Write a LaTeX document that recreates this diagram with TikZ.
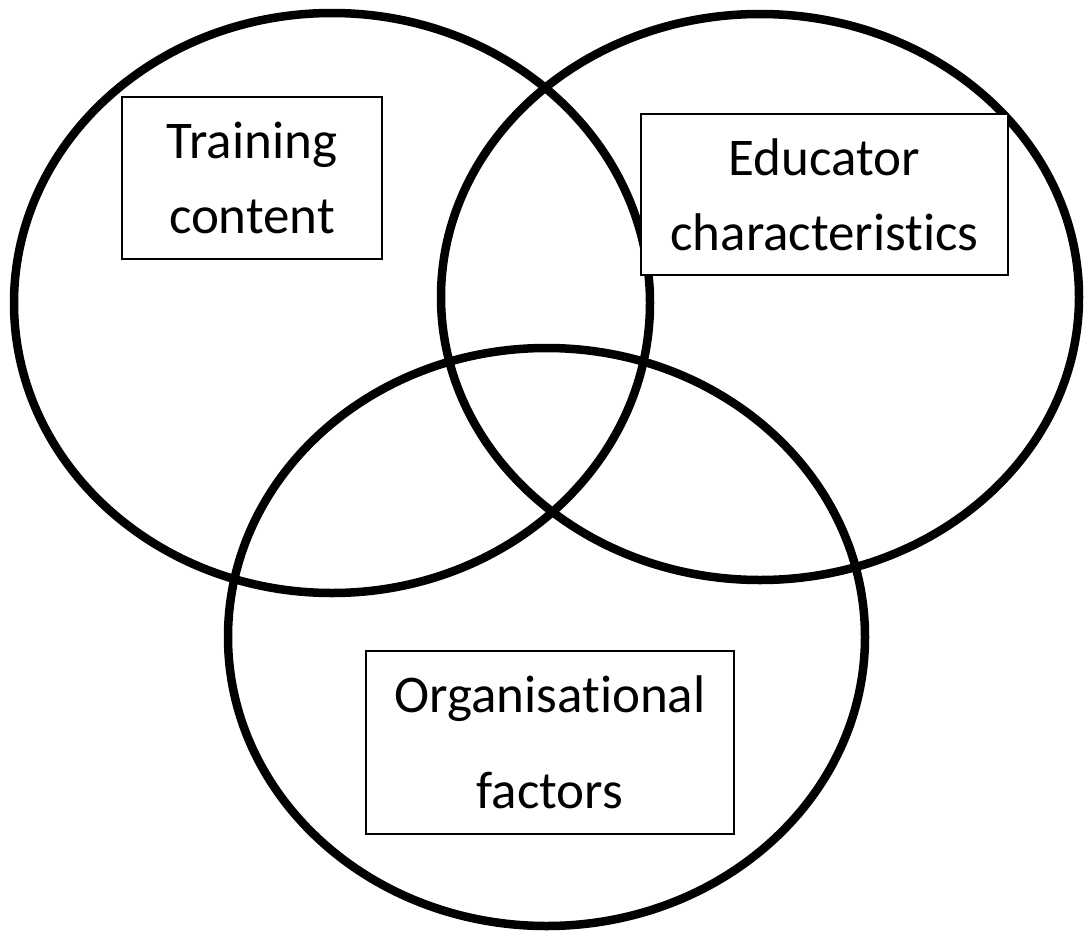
\documentclass[tikz,border=0pt]{standalone}
\usepackage{fontspec}
\setmainfont[Ligatures=NoCommon]{Carlito}
\begin{document}
\begin{tikzpicture}[x=1pt,y=-1pt,
  ring/.style={draw=black,line width=8.5pt},
  label box/.style={draw=black,line width=1.6pt,fill=white,align=center,inner sep=0pt,
    font=\fontsize{53}{75}\selectfont}]
\useasboundingbox (0,0) rectangle (1085,932);
\draw[ring] (332,303) ellipse [x radius=318, y radius=290];
\draw[ring] (760,297) ellipse [x radius=319, y radius=283];
\draw[ring] (546.5,637) ellipse [x radius=318.5, y radius=289];
\node[label box,minimum width=260pt,minimum height=162pt] (train) at (252,178) {Training\\content};
\node[label box,minimum width=367pt,minimum height=161pt] (educ) at (824.5,194.5) {Educator\\characteristics};
\node[label box,minimum width=368pt,minimum height=183pt,font=\fontsize{53}{96}\selectfont] (org) at (550,742.5) {Organisational\\factors};
\end{tikzpicture}
\end{document}
